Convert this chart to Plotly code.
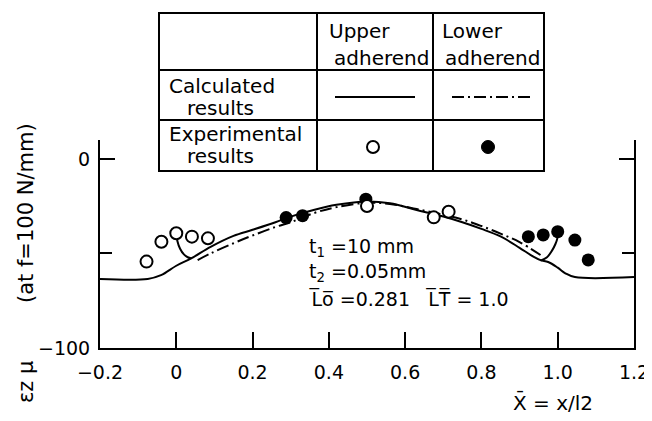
import plotly.graph_objects as go

# calculated strain, upper adherend (solid)
solid_x = [-0.2, -0.075, -0.04, 0.0, 0.04, 0.09, 0.15, 0.2, 0.26, 0.3, 0.36, 0.42, 0.5,
           0.56, 0.63, 0.7, 0.75, 0.8, 0.85, 0.9, 0.935, 0.955, 0.975, 1.0, 1.02, 1.045, 1.2]
solid_y = [-63.5, -63.5, -61.5, -56.5, -52.5, -46.5, -40.7, -37.5, -33.5, -30.5, -27, -24.3, -22.5,
           -23.5, -27, -30.5, -33.5, -37, -41, -47, -51.5, -53.5, -54.5, -57.5, -60.5, -62.5, -62.5]

# short curls at the overlap ends (solid)
curl_l_x = [0.0, 0.003, 0.01, 0.02, 0.03, 0.04]
curl_l_y = [-39, -43.5, -47.5, -50.5, -52, -52.6]
curl_r_x = [0.955, 0.972, 0.985, 0.994, 0.999, 1.0]
curl_r_y = [-53.8, -52, -48.5, -45, -42, -39.5]

# calculated strain, lower adherend (dash-dot)
dd_x = [0.056, 0.09, 0.15, 0.2, 0.26, 0.3, 0.36, 0.42, 0.5, 0.56, 0.63, 0.7, 0.75, 0.8, 0.85, 0.9, 0.955]
dd_y = [-53.5, -50, -44.6, -40.5, -36, -33.5, -28.7, -25.5, -23.2, -23.8, -26.5, -29.5, -32, -35.5,
        -39.5, -44, -50.8]

# experimental results
upper_x = [-0.078, -0.039, 0.0, 0.041, 0.083, 0.5, 0.675, 0.714]
upper_y = [-54.3, -43.8, -39.3, -41.1, -42.0, -24.9, -30.9, -27.9]
lower_x = [0.288, 0.331, 0.497, 0.923, 0.962, 1.0, 1.045, 1.08]
lower_y = [-31.0, -30.0, -21.3, -41.1, -40.2, -38.5, -42.9, -53.4]

x_ticks = [-0.2, 0, 0.2, 0.4, 0.6, 0.8, 1.0, 1.2]
x_labels = ["\u22120.2", "0", "0.2", "0.4", "0.6", "0.8", "1.0", "1.2"]
y_ticks = [0, -100]
y_labels = ["0", "\u2212100"]

# the page body has an 8px margin, so the figure is 8px smaller and offset
OFF = 8
W, H = 652 - OFF, 421 - OFF
FONT = "DejaVu Sans"
DASHDOT = "12px,4px,2px,4px"


def px(x):
    return (x - OFF) / W


def py(y):
    return 1 - (y - OFF) / H


def label(text, x, y, size=20, xanchor="center", angle=0):
    return dict(text=text, x=px(x), y=py(y), xref="paper", yref="paper",
                xanchor=xanchor, yanchor="middle", textangle=angle, showarrow=False,
                font=dict(size=size, color="black", family=FONT))


fig = go.Figure()
line = dict(color="black", width=2)
fig.add_trace(go.Scatter(x=solid_x, y=solid_y, mode="lines", line=dict(line, shape="spline")))
fig.add_trace(go.Scatter(x=curl_l_x, y=curl_l_y, mode="lines", line=dict(line, shape="spline")))
fig.add_trace(go.Scatter(x=curl_r_x, y=curl_r_y, mode="lines", line=dict(line, shape="spline")))
fig.add_trace(go.Scatter(x=dd_x, y=dd_y, mode="lines",
                         line=dict(color="black", width=2, dash=DASHDOT, shape="spline")))
fig.add_trace(go.Scatter(x=lower_x, y=lower_y, mode="markers",
                         marker=dict(color="black", size=13)))
fig.add_trace(go.Scatter(x=upper_x, y=upper_y, mode="markers",
                         marker=dict(color="white", size=12, line=dict(color="black", width=2))))

# legend table drawn by hand
tl, tr, tt, tb = 159, 544, 13, 171
shapes = [
    dict(type="rect", xref="paper", yref="paper", x0=px(tl), x1=px(tr), y0=py(tb), y1=py(tt),
         fillcolor="white", line=dict(color="black", width=2), layer="above"),
]
for cx in (317, 433):
    shapes.append(dict(type="line", xref="paper", yref="paper", x0=px(cx), x1=px(cx),
                       y0=py(tb), y1=py(tt), line=dict(color="black", width=2)))
for cy in (70, 120):
    shapes.append(dict(type="line", xref="paper", yref="paper", x0=px(tl), x1=px(tr),
                       y0=py(cy), y1=py(cy), line=dict(color="black", width=2)))
shapes.append(dict(type="line", xref="paper", yref="paper", x0=px(335), x1=px(415),
                   y0=py(97), y1=py(97), line=dict(color="black", width=2)))
shapes.append(dict(type="line", xref="paper", yref="paper", x0=px(452), x1=px(530),
                   y0=py(97), y1=py(97), line=dict(color="black", width=2, dash=DASHDOT)))
shapes.append(dict(type="circle", xref="paper", yref="paper", x0=px(367), x1=px(379),
                   y0=py(153), y1=py(141), fillcolor="white", line=dict(color="black", width=2)))
shapes.append(dict(type="circle", xref="paper", yref="paper", x0=px(481.5), x1=px(494.5),
                   y0=py(153.5), y1=py(140.5), fillcolor="black", line=dict(color="black", width=1)))

texts = [
    ("Upper", 327, 31), ("adherend", 332, 58), ("Lower", 440, 31), ("adherend", 443, 58),
    ("Calculated", 167, 86), ("results", 185, 108),
    ("Experimental", 167, 134), ("results", 185, 156),
]
annotations = [label(t, x, y, xanchor="left") for t, x, y in texts]

notes = [
    ("t<sub>1</sub> =10 mm", 247),
    ("t<sub>2</sub> =0.05mm", 272),
    ("L\u0305o\u0305 =0.281\u00a0\u00a0 L\u0305T\u0305 = 1.0", 298),
]
annotations += [label(t, 307, y, size=19, xanchor="left") for t, y in notes]

annotations += [
    label("(at f=100 N/mm)", 26, 213, size=21, angle=-90),
    label("\u03b5z \u03bc", 26, 382, size=21, angle=-90),
    label("X\u0304 = x/l2", 553, 402),
]

fig.update_layout(
    width=W, height=H, margin=dict(l=0, r=0, t=0, b=0),
    paper_bgcolor="white", plot_bgcolor="white", showlegend=False,
    font=dict(family=FONT, size=19, color="black"),
    shapes=shapes, annotations=annotations,
    xaxis=dict(domain=[px(100), px(634)], range=[-0.2, 1.2], showgrid=False, zeroline=False,
               showline=True, linecolor="black", linewidth=2, ticks="inside", ticklen=16,
               tickwidth=2, tickcolor="black", tickvals=x_ticks, ticktext=x_labels,
               ticklabelstandoff=6, ticklabeloverflow="allow", automargin=False),
    yaxis=dict(domain=[py(348), py(140)], range=[-100, 10], showgrid=False, zeroline=False,
               showline=True, linecolor="black", linewidth=2, mirror="ticks", ticks="inside",
               ticklen=15, tickwidth=2, tickcolor="black", tickvals=y_ticks, ticktext=y_labels,
               minor=dict(tickvals=[-50], ticks="inside", ticklen=12, tickwidth=2,
                          tickcolor="black"),
               ticklabelstandoff=4, automargin=False),
)

fig.write_html("out.html")
